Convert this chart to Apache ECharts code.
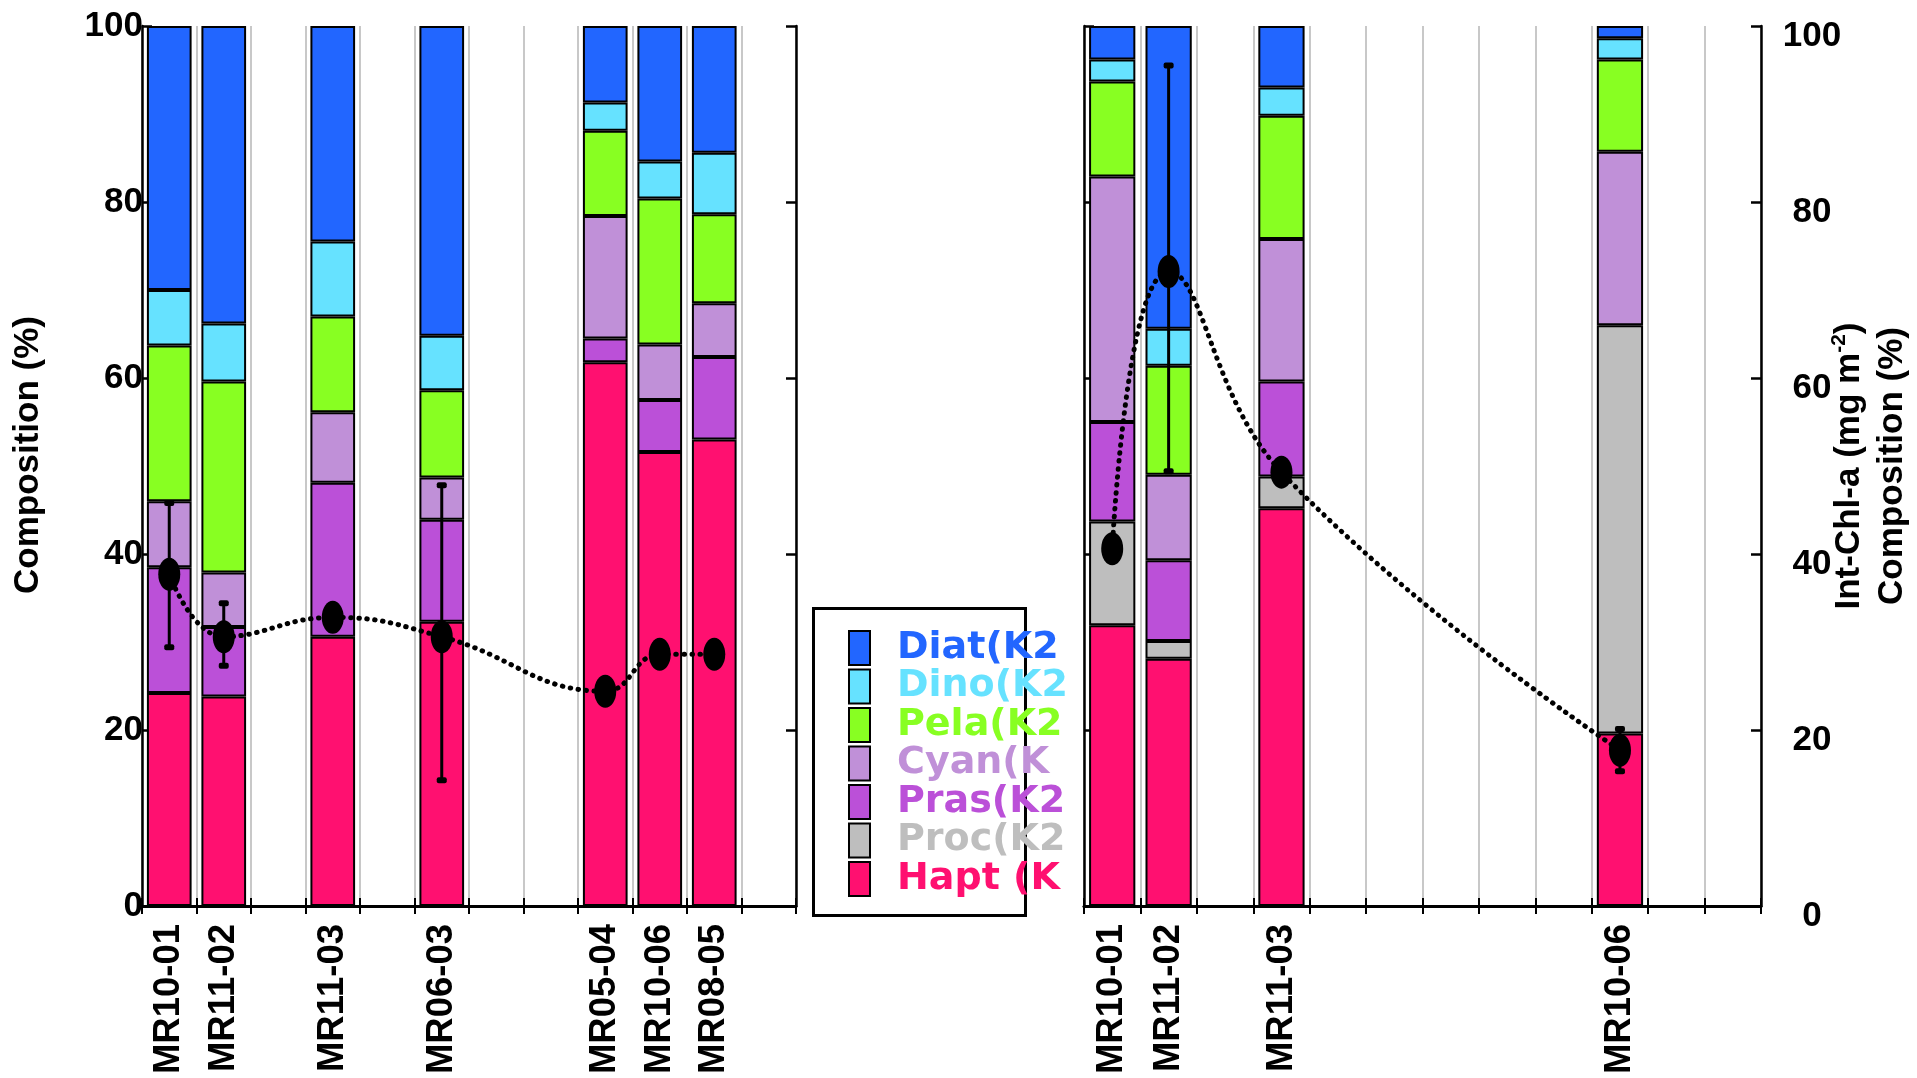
<!DOCTYPE html>
<html>
<head>
<meta charset="utf-8">
<script src="https://cdn.jsdelivr.net/npm/echarts@6/dist/echarts.min.js"></script>
<style>
html,body{margin:0;padding:0;background:#fff;overflow:hidden;}
#chart{width:1917px;height:1078px;}
</style>
</head>
<body>
<div id="chart"></div>
<script>
// ---------- data ----------
var catsLeft = ['MR10-01','MR11-02','','MR11-03','','MR06-03','','','MR05-04','MR10-06','MR08-05',''];
var catsRight = ['MR10-01','MR11-02','','MR11-03','','','','','','MR10-06','',''];
var yTicks = [0, 20, 40, 60, 80, 100];

var seriesNames = ['Hapt (K2)','Proc(K2)','Pras(K2)','Cyan(K2)','Pela(K2)','Dino(K2)','Diat(K2)'];
var seriesColors = ['#ff1070','#bebebe','#bb50d8','#c090d8','#88ff22','#66e2ff','#2266ff'];

// left panel composition (%)
var haptL = [24.2, 23.8, null, 30.6, null, 32.3, null, null, 61.8, 51.6, 53.0, null];
var procL = [null, null, null, null, null, null, null, null, null, null, null, null];
var prasL = [14.3, 7.9, null, 17.5, null, 11.6, null, null, 2.7, 5.9, 9.4, null];
var cyanL = [7.5, 6.2, null, 8.0, null, 4.8, null, null, 13.9, 6.3, 6.1, null];
var pelaL = [17.7, 21.7, null, 10.9, null, 9.9, null, null, 9.7, 16.6, 10.1, null];
var dinoL = [6.3, 6.6, null, 8.5, null, 6.2, null, null, 3.2, 4.2, 7.0, null];
var diatL = [30.0, 33.8, null, 24.5, null, 35.2, null, null, 8.7, 15.4, 14.4, null];

// right panel composition (%)
var haptR = [31.9, 28.1, null, 45.2, null, null, null, null, null, 19.6, null, null];
var procR = [11.8, 2.0, null, 3.6, null, null, null, null, null, 46.4, null, null];
var prasR = [11.3, 9.2, null, 10.8, null, null, null, null, null, null, null, null];
var cyanR = [27.9, 9.7, null, 16.2, null, null, null, null, null, 19.7, null, null];
var pelaR = [10.8, 12.4, null, 14.0, null, null, null, null, null, 10.5, null, null];
var dinoR = [2.5, 4.2, null, 3.2, null, null, null, null, null, 2.4, null, null];
var diatR = [3.8, 34.4, null, 7.0, null, null, null, null, null, 1.4, null, null];

// Int-Chl-a (mg m-2) with error ranges
var chlL = [37.7, 30.6, null, 32.8, null, 30.6, null, null, 24.4, 28.6, 28.6, null];
var errLowL = [29.4, 27.3, null, null, null, 14.3, null, null, null, null, null, null];
var errHighL = [45.8, 34.4, null, null, null, 47.8, null, null, null, null, null, null];
var chlR = [40.6, 72.1, null, 49.3, null, null, null, null, null, 17.7, null, null];
var errLowR = [null, 49.4, null, null, null, null, null, null, null, 15.3, null, null];
var errHighR = [null, 95.5, null, null, null, null, null, null, null, 20.1, null, null];

// ---------- build ----------
var FONT = "'Liberation Sans', Arial, Helvetica, sans-serif";
var LFONT = "'DejaVu Sans', 'Liberation Sans', sans-serif";
var leftSets = [haptL, procL, prasL, cyanL, pelaL, dinoL, diatL];
var rightSets = [haptR, procR, prasR, cyanR, pelaR, dinoR, diatR];

function errData(low, high) {
  var out = [];
  for (var i = 0; i < low.length; i++) {
    if (low[i] != null && high[i] != null) out.push([i, low[i], high[i]]);
  }
  return out;
}

function renderErr(params, api) {
  var idx = api.value(0);
  var p1 = api.coord([idx, api.value(1)]);
  var p2 = api.coord([idx, api.value(2)]);
  var st = { fill: '#000' };
  return {
    type: 'group',
    children: [
      { type: 'line', shape: { x1: p1[0], y1: p1[1], x2: p2[0], y2: p2[1] }, style: { stroke: '#000', lineWidth: 3 } },
      { type: 'rect', shape: { x: p1[0] - 5, y: p1[1] - 3, width: 10, height: 6, r: 2 }, style: st },
      { type: 'rect', shape: { x: p2[0] - 5, y: p2[1] - 3, width: 10, height: 6, r: 2 }, style: st }
    ]
  };
}

var series = [];
function addPanel(sets, chl, low, high, xi, yi, stackName) {
  for (var k = 0; k < sets.length; k++) {
    series.push({
      name: seriesNames[k], type: 'bar', stack: stackName,
      xAxisIndex: xi, yAxisIndex: yi, barWidth: '82%',
      itemStyle: { color: seriesColors[k], borderColor: '#000', borderWidth: 2 },
      data: sets[k], z: 2, animation: false
    });
  }
  series.push({
    name: 'chl', type: 'line', xAxisIndex: xi, yAxisIndex: yi,
    data: chl, connectNulls: true, smooth: 0.45,
    symbol: 'circle', symbolSize: [22, 33],
    itemStyle: { color: '#000' },
    lineStyle: { color: '#000', width: 5, type: [0.5, 7.5], cap: 'round' },
    z: 6, animation: false
  });
  series.push({
    name: 'err', type: 'custom', xAxisIndex: xi, yAxisIndex: yi,
    renderItem: renderErr, data: errData(low, high), z: 7, animation: false
  });
}
addPanel(leftSets, chlL, errLowL, errHighL, 0, 0, 'L');
addPanel(rightSets, chlR, errLowR, errHighR, 2, 2, 'R');

function xAx(grid, cats, pos, labels) {
  return {
    type: 'category', gridIndex: grid, data: cats, position: pos,
    boundaryGap: true,
    axisLine: { show: true, lineStyle: { color: '#000', width: pos === 'bottom' ? 3 : 2.5 } },
    axisTick: { show: true, inside: true, length: 8, interval: 0, lineStyle: { color: '#000', width: 2 } },
    axisLabel: labels ? {
      show: true, interval: 0, rotate: 90, margin: 18, hideOverlap: false,
      fontFamily: FONT, fontWeight: 'bold', fontSize: 36.5, color: '#000'
    } : { show: false },
    splitLine: { show: labels, interval: 0, lineStyle: { color: '#c8c8c8', width: 2 } }
  };
}
function yAx(grid, pos, labels, extra) {
  var a = {
    type: 'value', gridIndex: grid, position: pos, min: yTicks[0], max: yTicks[yTicks.length - 1],
    interval: yTicks[1] - yTicks[0],
    axisLine: { show: true, lineStyle: { color: '#000', width: 2.5 } },
    axisTick: { show: true, inside: true, length: 10, lineStyle: { color: '#000', width: 2.5 } },
    axisLabel: { show: false },
    splitLine: { show: false }
  };
  if (extra) for (var k in extra) a[k] = extra[k];
  return a;
}

var option = {
  backgroundColor: '#fff',
  animation: false,
  textStyle: { fontFamily: FONT },
  grid: [
    { left: 142, top: 26, width: 654, height: 880, containLabel: false, outerBoundsMode: 'none' },
    { left: 1084, top: 26, width: 677, height: 880, containLabel: false, outerBoundsMode: 'none' }
  ],
  xAxis: [
    xAx(0, catsLeft, 'bottom', true),
    xAx(0, catsLeft, 'top', false),
    xAx(1, catsRight, 'bottom', true),
    xAx(1, catsRight, 'top', false)
  ],
  yAxis: [
    yAx(0, 'left', true, {
      axisLabel: { show: true, margin: -1, fontFamily: FONT, fontWeight: 'bold', fontSize: 35, color: '#000' },
      name: 'Composition (%)', nameLocation: 'middle', nameRotate: 90, nameGap: 96,
      nameTextStyle: { fontFamily: FONT, fontWeight: 'bold', fontSize: 35, color: '#000', padding: [0, 0, 0, 22] }
    }),
    yAx(0, 'right', false),
    yAx(1, 'left', false),
    yAx(1, 'right', true, {
      axisLabel: { show: true, margin: 51, align: 'center',
        formatter: '{v|{value}}',
        rich: { v: { fontFamily: FONT, fontWeight: 'bold', fontSize: 35, color: '#000', padding: [20, 0, 0, 0] } },
        fontFamily: FONT, fontWeight: 'bold', fontSize: 35, color: '#000' },
      name: '{a|Int-Chl-a (mg m}{sup|-2}{a|)}\n{a|Composition (%)}',
      nameLocation: 'middle', nameRotate: 90, nameGap: 67, nameMoveOverlap: false,
      nameTextStyle: {
        fontFamily: FONT, fontWeight: 'bold', fontSize: 35, color: '#000', lineHeight: 43,
        rich: {
          a: { fontFamily: FONT, fontWeight: 'bold', fontSize: 35, color: '#000', lineHeight: 43 },
          sup: { fontFamily: FONT, fontWeight: 'bold', fontSize: 21, color: '#000', padding: [0, 0, 20, 0] }
        }
      }
    })
  ],
  legend: {
    orient: 'vertical', left: 848, top: 629, padding: 0,
    itemWidth: 21, itemHeight: 34, itemGap: 0.5, icon: 'rect',
    selectedMode: false,
    itemStyle: { borderColor: '#000', borderWidth: 2 },
    textStyle: {
      fontFamily: LFONT, fontWeight: 'bold', fontSize: 38,
      padding: [0, 0, 0, 22], width: 172, overflow: 'truncate', ellipsis: ''
    },
    data: [6, 5, 4, 3, 2, 1, 0].map(function (k) {
      return { name: seriesNames[k], textStyle: { color: seriesColors[k] } };
    })
  },
  graphic: [
    { type: 'rect', left: 811, top: 606, shape: { width: 212, height: 307 },
      style: { fill: 'none', stroke: '#000', lineWidth: 3 }, z: 1 }
  ],
  series: series
};

var chart = echarts.init(document.getElementById('chart'), null, { renderer: 'canvas' });
chart.setOption(option);
</script>
</body>
</html>
